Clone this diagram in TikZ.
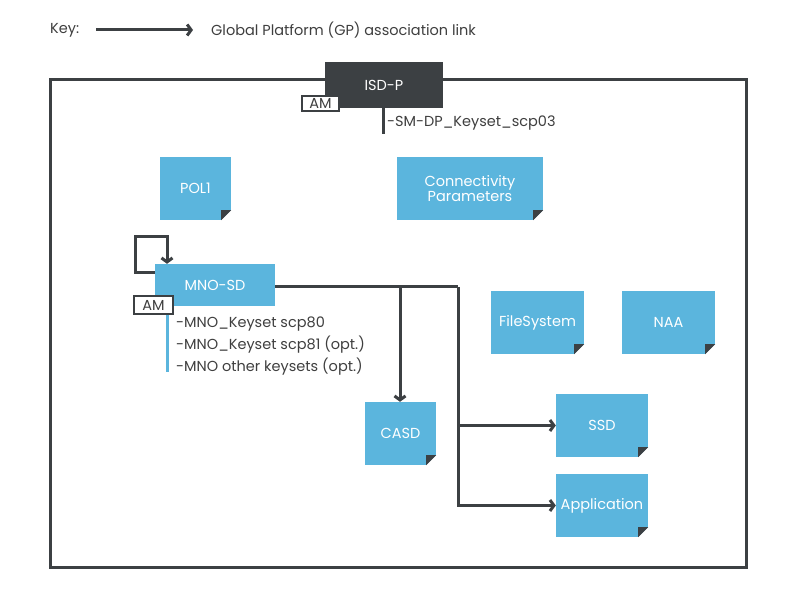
\documentclass[tikz,border=0pt]{standalone}
\usepackage{fontspec}
\setmainfont{Poppins}
\usetikzlibrary{arrows.meta,calc}
\definecolor{sdblue}{HTML}{5BB5DD}
\definecolor{dark}{HTML}{3C4043}
\definecolor{txt}{HTML}{3F3F3F}
\tikzset{
  base/.style={font=\fontsize{14.5}{16}\selectfont},
  note/.style={base, fill=sdblue, text=white, inner sep=0pt, align=center},
  link/.style={draw=dark, line width=3pt, -{Straight Barb[length=4pt,width=11pt,line width=3pt]}},
  plain/.style={draw=dark, line width=3pt},
  ambox/.style={base, draw=dark, fill=white, line width=2pt, text=txt, inner sep=0pt},
  lbl/.style={base, text=txt, anchor=west, inner sep=0pt},
}
\newcommand{\fold}[1]{%
  \fill[white] ($(#1.south east)+(-10pt,0)$) -- (#1.south east) -- ($(#1.south east)+(0,10pt)$) -- cycle;
  \fill[dark] ($(#1.south east)+(-10pt,0)$) -- ($(#1.south east)+(-10pt,10pt)$) -- ($(#1.south east)+(0,10pt)$) -- cycle;
}
\begin{document}
\begin{tikzpicture}[x=1pt,y=1pt]
\useasboundingbox (0,0) rectangle (800,600);
\fill[white] (0,0) rectangle (800,600);
% key
\node[lbl] (key) at (50,570) {Key:};
\coordinate (ka) at (96,570);
\coordinate (kb) at (193,570);
\draw[link] (ka) -- (kb);
\node[lbl] (keytxt) at (211,570) {Global Platform (GP) association link};
% frame
\draw[dark, line width=3pt] (50,520) rectangle (746,33);
% ISD-P
\node[base, fill=dark, text=white, minimum width=118pt, minimum height=46pt, inner sep=0pt] (isdp) at (384,515) {ISD-P};
\node[ambox, minimum width=37pt, minimum height=15pt] (am1) at (320.5,496.5) {AM};
\coordinate (isdl) at (383,466);
\draw[plain] (isdp.south -| isdl) -- (isdl);
\node[lbl] (sm) at (387,477) {-SM-DP\_Keyset\_scp03};
% notes
\node[note, minimum width=71pt, minimum height=63pt] (pol) at (195.5,411.5) {POL1};
\node[note, minimum width=146pt, minimum height=63pt] (conn) at (470,411.5) {Connectivity\\[-1pt]Parameters};
\node[note, minimum width=93pt, minimum height=63pt] (fs) at (537.5,277.5) {FileSystem};
\node[note, minimum width=93pt, minimum height=63pt] (naa) at (668.5,277.5) {NAA};
\node[note, minimum width=71pt, minimum height=63pt] (casd) at (400.5,166.5) {CASD};
\node[note, minimum width=92pt, minimum height=63pt] (ssd) at (602,174.5) {SSD};
\node[note, minimum width=92pt, minimum height=63pt] (app) at (602,94.5) {Application};
\fold{pol}\fold{conn}\fold{fs}\fold{naa}\fold{casd}\fold{ssd}\fold{app}
% MNO-SD
\node[note, minimum width=120pt, minimum height=42pt] (mno) at (215,315) {MNO-SD};
\coordinate (l1) at (135,327);
\coordinate (l2) at (135,363);
\coordinate (l3) at (167,363);
\draw[link] ($(mno.west)+(0,12pt)$) -- (l1) -- (l2) -- (l3) -- (mno.north -| l3);
\node[ambox, minimum width=39pt, minimum height=18pt] (am2) at (153.5,295) {AM};
\coordinate (bl) at (167,228);
\draw[sdblue, line width=3pt] (am2.south -| bl) -- (bl);
\node[lbl] (k1) at (176,276) {-MNO\_Keyset scp80};
\node[lbl] (k2) at (176,255) {-MNO\_Keyset scp81 (opt.)};
\node[lbl] (k3) at (176,233) {-MNO other keysets (opt.)};
% connectors
\coordinate (j1) at (400,313);
\coordinate (j2) at (458,313);
\draw[plain] (mno.east |- j1) -- (j2);
\draw[link] (j2) |- (app.west);
\draw[link] (j1) -- (casd.north -| j1);
\draw[link] (ssd.west -| j2) -- (ssd.west);
\end{tikzpicture}
\end{document}
